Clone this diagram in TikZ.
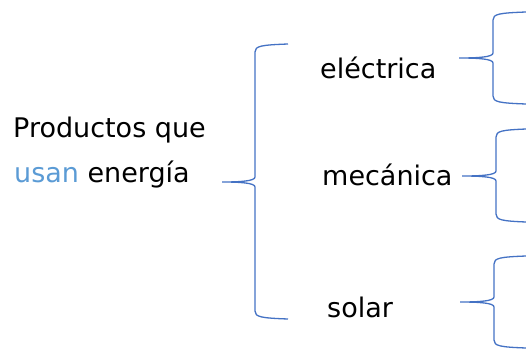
\documentclass[tikz,border=0pt]{standalone}
\usepackage{fontspec}
\setmainfont{DejaVu Sans}
\definecolor{llaveazul}{RGB}{68,114,196}
\definecolor{usanazul}{RGB}{91,155,213}

% brace: tip x, tip y, bar x, top y, bottom y, end x
\newcommand{\llave}[6]{%
\draw[llave] (#6,#4-4) .. controls (#3+6,#4-3) and (#3,#4-2) .. (#3,#4+4)
  -- (#3,#2-5) .. controls (#3,#2-1) and (#3-14,#2) .. (#1,#2)
  .. controls (#3-14,#2) and (#3,#2+1) .. (#3,#2+5)
  -- (#3,#5-4) .. controls (#3,#5+2) and (#3+6,#5+3) .. (#6,#5+4);}

\begin{document}
\begin{tikzpicture}[x=1pt,y=-1pt,
  llave/.style={draw=llaveazul,line width=1.3pt},
  texto/.style={anchor=base west,inner sep=0pt,font=\fontsize{27}{32}\selectfont}]

\useasboundingbox (0,0) rectangle (526,348);

\node[texto] (prod)  at (13,137) {Productos que};
\node[texto] (usan)  at (14,182) {\textcolor{usanazul}{usan} energía};

\node[texto] (elec)  at (320,78)  {eléctrica};
\node[texto] (meca)  at (322,185) {mecánica};
\node[texto] (solar) at (327,317) {solar};

\llave{222}{182}{255}{48}{315}{288}
\llave{459}{58}{493}{16}{100}{526}
\llave{462}{176}{496}{133}{218}{526}
\llave{460}{302}{494}{260}{344}{526}

\end{tikzpicture}
\end{document}
